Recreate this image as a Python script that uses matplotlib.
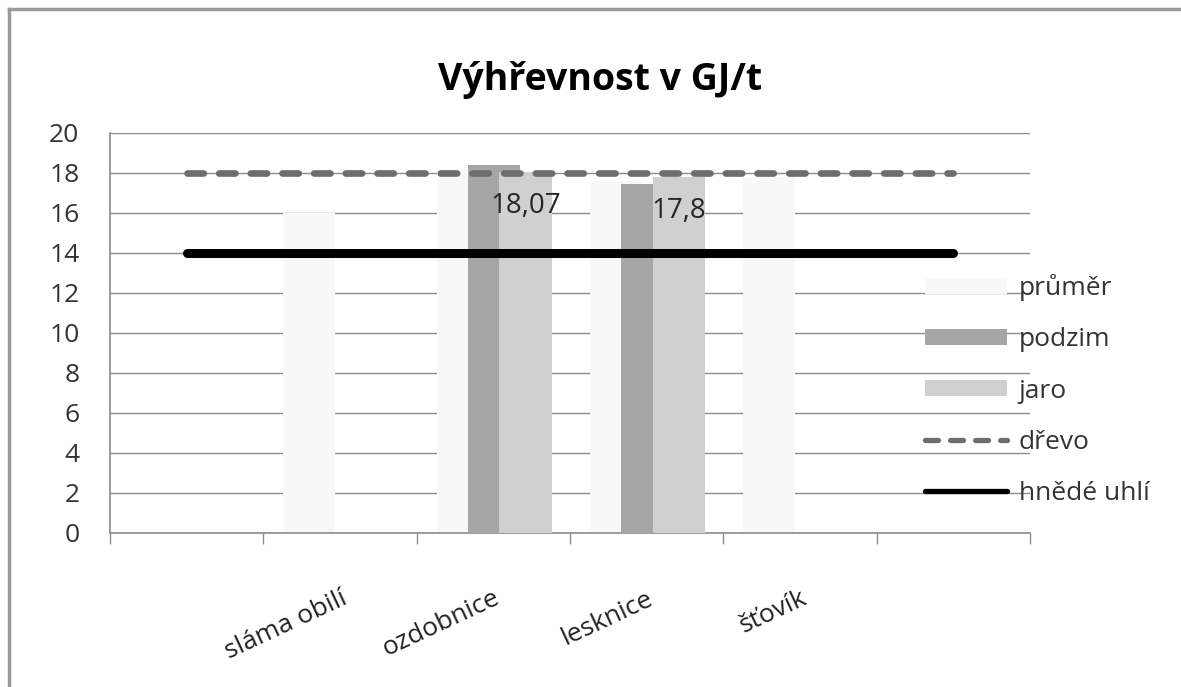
import numpy as np
import matplotlib
matplotlib.use('Agg')
import matplotlib.pyplot as plt
from matplotlib.lines import Line2D

plt.rcParams['font.family'] = ['Open Sans', 'DejaVu Sans']

# data
categories = ['', 'sláma obilí', 'ozdobnice', 'lesknice', 'šťovík', '']
prumer = [np.nan, 16.0, 18.2, 17.6, 17.8, np.nan]
podzim = [np.nan, np.nan, 18.4, 17.45, np.nan, np.nan]
jaro = [np.nan, np.nan, 18.07, 17.8, np.nan, np.nan]
drevo = [18, 18, 18, 18, 18, 18]
uhli = [14, 14, 14, 14, 14, 14]
jaro_labels = ['', '', '18,07', '17,8', '', '']

x = np.arange(len(categories))

fig = plt.figure(figsize=(11.81, 6.87), dpi=100)
ax = fig.add_axes([110/1181, 1 - 533/687, 920/1181, 400/687])

# bars (overlapping, Excel style)
w = 0.34
b1 = ax.bar(x - 0.2, prumer, w, color='#f8f8f8', label='průměr', zorder=2)
b2 = ax.bar(x + 0.005, podzim, w, color='#a6a6a6', label='podzim', zorder=3)
b3 = ax.bar(x + 0.21, jaro, w, color='#d0d0d0', label='jaro', zorder=4)

# lines
l1, = ax.plot(x, drevo, color='#6d6d6d', lw=4.8, dashes=(2.45, 2.3),
              dash_capstyle='round', label='dřevo', zorder=5)
l2, = ax.plot(x, uhli, color='black', lw=6.5, solid_capstyle='round',
              label='hnědé uhlí', zorder=6)

# data labels
for xi, val, lab in zip(x, jaro, jaro_labels):
    if lab:
        ax.annotate(lab, (xi + 0.21, val), xytext=(0, -24.5),
                    textcoords='offset points', ha='center', va='center',
                    fontsize=20, color='#262626', zorder=7)

# axes
ax.set_xlim(-0.5, 5.5)
ax.set_ylim(0, 20)
ax.set_yticks(np.arange(0, 21, 2))
ax.yaxis.grid(True, color='#8c8c8c', lw=1)
ax.set_axisbelow(True)
ax.tick_params(axis='y', length=0, pad=22, labelsize=19, labelcolor='#333333')

ax.set_xticks(x)
ax.set_xticklabels(categories, rotation=25, ha='right', va='top',
                   rotation_mode='anchor', fontsize=19, color='#222222')
ax.tick_params(axis='x', which='major', length=0, pad=38)
ax.set_xticks(np.arange(-0.5, 6, 1), minor=True)
ax.tick_params(axis='x', which='minor', length=8, color='#8c8c8c', width=1)

for s in ['top', 'right']:
    ax.spines[s].set_visible(False)
for s in ['left', 'bottom']:
    ax.spines[s].set_color('#8c8c8c')
    ax.spines[s].set_linewidth(1.2)

fig.text(600/1181, 1 - 80/687, 'Výhřevnost v GJ/t', fontsize=27, fontweight='bold',
         color='black', ha='center', va='center')

leg = ax.legend([b1, b2, b3, l1, l2], ['průměr', 'podzim', 'jaro', 'dřevo', 'hnědé uhlí'],
                loc='center left', bbox_to_anchor=(925/1181, 1 - 390/687),
                bbox_transform=fig.transFigure, frameon=False, fontsize=19,
                handlelength=3.1, handleheight=0.57, handletextpad=0.45,
                labelspacing=0.99, borderpad=0, borderaxespad=0)
for t in leg.get_texts():
    t.set_color('#333333')
for h in leg.legend_handles[3:]:
    h.set_linewidth(3.8)

# outer chart frame (left and top edges visible)
fig.add_artist(Line2D([9/1181, 9/1181], [0, 1 - 9/687], color='#9a9a9a', lw=2.5,
                      transform=fig.transFigure))
fig.add_artist(Line2D([9/1181, 1], [1 - 9/687, 1 - 9/687], color='#9a9a9a', lw=2.5,
                      transform=fig.transFigure))

fig.savefig('out.png', dpi=100)
